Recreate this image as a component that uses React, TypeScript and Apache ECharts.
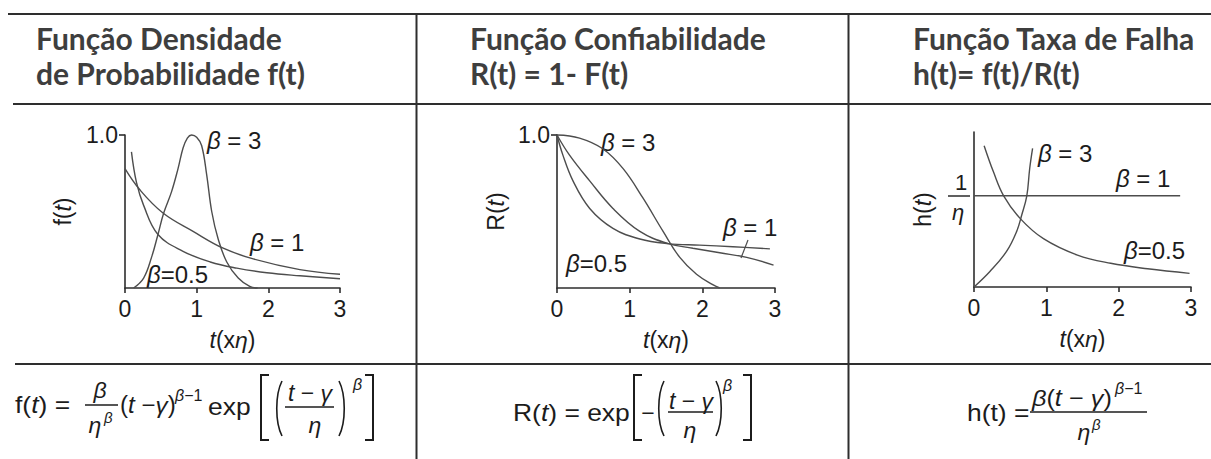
import React, { useEffect, useRef } from "react";
import * as echarts from "echarts";

// Weibull curves (η = 1), values read per β
const densityB3 = [[0.12, 0], [0.26, 0.065], [0.37, 0.2], [0.46, 0.35], [0.54, 0.49], [0.65, 0.63], [0.74, 0.78], [0.81, 0.915], [0.87, 0.98], [0.93, 1.0], [1.0, 0.985], [1.07, 0.93], [1.14, 0.74], [1.21, 0.5], [1.3, 0.32], [1.42, 0.17], [1.58, 0.065], [1.74, 0.01], [1.85, 0]];
const densityB1 = [[0, 0.78], [0.21, 0.64], [0.53, 0.49], [0.95, 0.37], [1.37, 0.26], [1.79, 0.19], [2.44, 0.12], [3.0, 0.09]];
const densityB05 = [[0.09, 0.89], [0.16, 0.69], [0.26, 0.54], [0.46, 0.35], [0.81, 0.24], [1.19, 0.17], [1.56, 0.13], [1.98, 0.1], [2.44, 0.08], [3.0, 0.06]];

const reliabB3 = [[0, 1], [0.31, 0.98], [0.63, 0.91], [0.91, 0.78], [1.18, 0.59], [1.46, 0.37], [1.69, 0.2], [1.92, 0.09], [2.15, 0.02], [2.24, 0]];
const reliabB1 = [[0, 1], [0.17, 0.87], [0.45, 0.7], [0.77, 0.52], [1.14, 0.37], [1.53, 0.29], [1.87, 0.26], [2.24, 0.23], [2.61, 0.2], [2.98, 0.15]];
const reliabB05 = [[0, 1], [0.08, 0.87], [0.22, 0.7], [0.45, 0.52], [0.77, 0.39], [1.14, 0.32], [1.53, 0.29], [1.96, 0.28], [2.42, 0.27], [2.93, 0.256]];

const hazardB3 = [[0, 0], [0.22, 0.17], [0.45, 0.39], [0.59, 0.61], [0.66, 0.79], [0.73, 1.0], [0.77, 1.3], [0.81, 1.52]];
const hazardB1 = [[0, 1], [2.85, 1]];
const hazardB05 = [[0.14, 1.55], [0.27, 1.26], [0.41, 1.0], [0.64, 0.75], [0.96, 0.53], [1.43, 0.35], [1.89, 0.26], [2.4, 0.2], [2.98, 0.15]];

const xTicks = [0, 1, 2, 3];
const headers = [
  ["Função Densidade", "de Probabilidade f(t)"],
  ["Função Confiabilidade", "R(t) = 1- F(t)"],
  ["Função Taxa de Falha", "h(t)= f(t)/R(t)"],
];
const yNames = ["f({i|t})", "R({i|t})", "h({i|t})"];
const yMax = [1, 1, 1.7];

const SANS = "'Liberation Sans', Arial, sans-serif";
const INK = "#1c1c1c";
const CURVE = "#4d4d4d";
const RULE = "#2e2e2e";
const AXIS_FONT = 23;

const ital = (size: number) => ({ fontStyle: "italic", fontSize: size, fontFamily: SANS, color: INK });

function text(x: number, y: number, t: string, o: any = {}) {
  const size = o.size ?? 22;
  return {
    type: "text",
    x,
    y,
    scaleX: o.scaleX ?? 1,
    silent: true,
    style: {
      text: t,
      fontSize: size,
      fontFamily: o.family ?? SANS,
      fontWeight: o.weight ?? "normal",
      fontStyle: o.italic ? "italic" : "normal",
      fill: o.fill ?? INK,
      align: o.align ?? "left",
      verticalAlign: "middle",
      rich: {
        i: { fontStyle: "italic", fontSize: size, fontFamily: SANS, fill: o.fill ?? INK },
        s: { fontSize: Math.round(size * 0.68), fontFamily: SANS, fill: INK },
        si: { fontStyle: "italic", fontSize: Math.round(size * 0.68), fontFamily: SANS, fill: INK },
      },
    },
  };
}

function line(x1: number, y1: number, x2: number, y2: number, w = 2, c = RULE) {
  return { type: "line", silent: true, shape: { x1, y1, x2, y2 }, style: { stroke: c, lineWidth: w } };
}

function bracket(x: number, top: number, bottom: number, left: boolean) {
  const d = left ? 8 : -8;
  return {
    type: "polyline",
    silent: true,
    shape: { points: [[x + d, top], [x, top], [x, bottom], [x + d, bottom]] },
    style: { stroke: INK, lineWidth: 2, fill: null },
  };
}

function paren(x: number, top: number, bottom: number, left: boolean) {
  const bulge = left ? -7 : 7;
  const h = bottom - top;
  return {
    type: "bezierCurve",
    silent: true,
    shape: { x1: x, y1: top, x2: x, y2: bottom, cpx1: x + bulge, cpy1: top + h * 0.25, cpx2: x + bulge, cpy2: bottom - h * 0.25 },
    style: { stroke: INK, lineWidth: 1.6, fill: null },
  };
}

function betaLabel(x: number, y: number, rest: string) {
  return text(x, y, "{i|β}" + rest, { size: 24 });
}

export default function App() {
  const ref = useRef<HTMLDivElement>(null);

  useEffect(() => {
    if (!ref.current) return;
    const chart = echarts.init(ref.current, undefined, { renderer: "svg" });

    const grids = [
      { left: 125, top: 135, width: 215, height: 153 },
      { left: 557, top: 135, width: 218, height: 153 },
      { left: 974, top: 132, width: 217, height: 155 },
    ];
    const yNameGap = [51, 50, 40];

    const axisLineStyle = { color: RULE, width: 1.6 };
    const xAxis = grids.map((_, i) => ({
      type: "value",
      gridIndex: i,
      min: xTicks[0],
      max: xTicks[xTicks.length - 1],
      interval: 1,
      axisLine: { show: true, onZero: false, lineStyle: axisLineStyle },
      axisTick: { show: true, length: 5, lineStyle: axisLineStyle },
      axisLabel: { fontSize: AXIS_FONT, fontFamily: SANS, color: INK, margin: 9 },
      splitLine: { show: false },
      name: "{i|t}(x{i|η})",
      nameLocation: "middle",
      nameGap: 40,
      nameTextStyle: { fontSize: AXIS_FONT, fontFamily: SANS, color: INK, rich: { i: ital(AXIS_FONT) } },
    }));

    const yAxis = grids.map((_, i) => ({
      type: "value",
      gridIndex: i,
      min: 0,
      max: yMax[i],
      interval: i === 2 ? undefined : 1,
      axisLine: { show: true, onZero: false, lineStyle: axisLineStyle },
      axisTick: i === 2 ? { show: false } : { show: true, length: 6, customValues: [1], lineStyle: axisLineStyle },
      axisLabel:
        i === 2
          ? { show: false }
          : { show: true, customValues: [1], formatter: () => "1.0", fontSize: AXIS_FONT, fontFamily: SANS, color: INK, margin: 7 },
      splitLine: { show: false },
      name: yNames[i],
      nameLocation: "middle",
      nameGap: yNameGap[i],
      nameTextStyle: { fontSize: AXIS_FONT, fontFamily: SANS, color: INK, rich: { i: ital(AXIS_FONT) } },
    }));

    const curveSets = [
      [densityB3, densityB1, densityB05],
      [reliabB3, reliabB1, reliabB05],
      [hazardB3, hazardB1, hazardB05],
    ];
    const series: any[] = [];
    curveSets.forEach((set, i) =>
      set.forEach((data) =>
        series.push({
          type: "line",
          xAxisIndex: i,
          yAxisIndex: i,
          data,
          showSymbol: false,
          smooth: 0.4,
          clip: false,
          silent: true,
          lineStyle: { color: CURVE, width: 1.4 },
        })
      )
    );

    const colX = [36, 470, 913];
    const headerEls: any[] = [];
    headers.forEach((pair, i) => {
      headerEls.push(text(colX[i], 38, pair[0], { size: 30, weight: "bold", family: "Lato, 'Open Sans', sans-serif", fill: "#3e3e3e" }));
      headerEls.push(text(colX[i], 73, pair[1], { size: 30, weight: "bold", family: "Lato, 'Open Sans', sans-serif", fill: "#3e3e3e" }));
    });

    const sx = 1.15;
    const formulaEls: any[] = [
      // f(t)
      text(15, 405, "f({i|t}) =", { scaleX: sx, size: 23 }),
      text(100, 390, "β", { italic: true, align: "center", size: 23 }),
      line(85, 405, 118, 405, 1.4, INK),
      text(95, 425, "η", { italic: true, align: "center", size: 23 }),
      text(104, 417, "β", { italic: true, size: 15 }),
      text(120, 405, "({i|t} −{i|γ})", { scaleX: 1.05, size: 23 }),
      text(175, 395, "{si|β}{s|−1}", { size: 23 }),
      text(208, 407, "exp", { scaleX: sx, size: 23 }),
      bracket(261, 375, 440, true),
      paren(282, 381, 436, true),
      text(310, 393, "{i|t} − {i|γ}", { align: "center", size: 23 }),
      line(285, 407, 334, 407, 1.4, INK),
      text(315, 425, "η", { italic: true, align: "center", size: 23 }),
      paren(339, 381, 436, false),
      text(353, 384, "β", { italic: true, size: 16 }),
      bracket(373, 375, 440, false),
      // R(t)
      text(513, 413, "R({i|t}) = exp", { scaleX: sx, size: 23 }),
      bracket(634, 375, 440, true),
      text(648, 413, "−", { align: "center", size: 23 }),
      paren(664, 381, 436, true),
      text(691, 401, "{i|t} − {i|γ}", { align: "center", size: 23 }),
      line(668, 412, 713, 412, 1.4, INK),
      text(690, 430, "η", { italic: true, align: "center", size: 23 }),
      paren(716, 381, 436, false),
      text(723, 385, "β", { italic: true, size: 16 }),
      bracket(751, 375, 440, false),
      // h(t)
      text(967, 413, "h(t) =", { scaleX: sx, size: 23 }),
      text(1032, 398, "{i|β}({i|t} − {i|γ})", { scaleX: 1.1, size: 23 }),
      text(1115, 388, "{si|β}{s|−1}", { size: 23 }),
      line(1030, 412, 1147, 412, 1.4, INK),
      text(1084, 432, "η", { italic: true, align: "center", size: 23 }),
      text(1092, 424, "β", { italic: true, size: 15 }),
    ];

    const chartTextEls: any[] = [
      betaLabel(207, 140, " = 3"),
      betaLabel(250, 242, " = 1"),
      betaLabel(147, 274, "=0.5"),
      betaLabel(601, 142, " = 3"),
      betaLabel(723, 227, " = 1"),
      line(748, 240, 741, 258, 1.2, CURVE),
      betaLabel(566, 263, "=0.5"),
      betaLabel(1038, 153, " = 3"),
      betaLabel(1116, 178, " = 1"),
      betaLabel(1124, 250, "=0.5"),
      text(961, 182, "1", { size: 22, align: "center" }),
      line(948, 196, 970, 196, 1.4, INK),
      text(958, 212, "η", { size: 22, italic: true, align: "center" }),
    ];

    const tableEls = [
      line(8, 14, 1211, 14),
      line(13, 104, 1211, 104),
      line(15, 364, 1211, 364),
      line(416.5, 14, 416.5, 459),
      line(848.5, 14, 848.5, 459),
    ];

    chart.setOption({
      animation: false,
      backgroundColor: "#ffffff",
      grid: grids.map((g) => ({ ...g, containLabel: false, outerBoundsMode: "none" })),
      xAxis,
      yAxis,
      series,
      graphic: { elements: [...tableEls, ...headerEls, ...chartTextEls, ...formulaEls] },
    });

    return () => chart.dispose();
  }, []);

  return (
    <div
      ref={ref}
      style={{ position: "fixed", left: 0, top: 0, width: 1211, height: 459, background: "#fff" }}
    />
  );
}
